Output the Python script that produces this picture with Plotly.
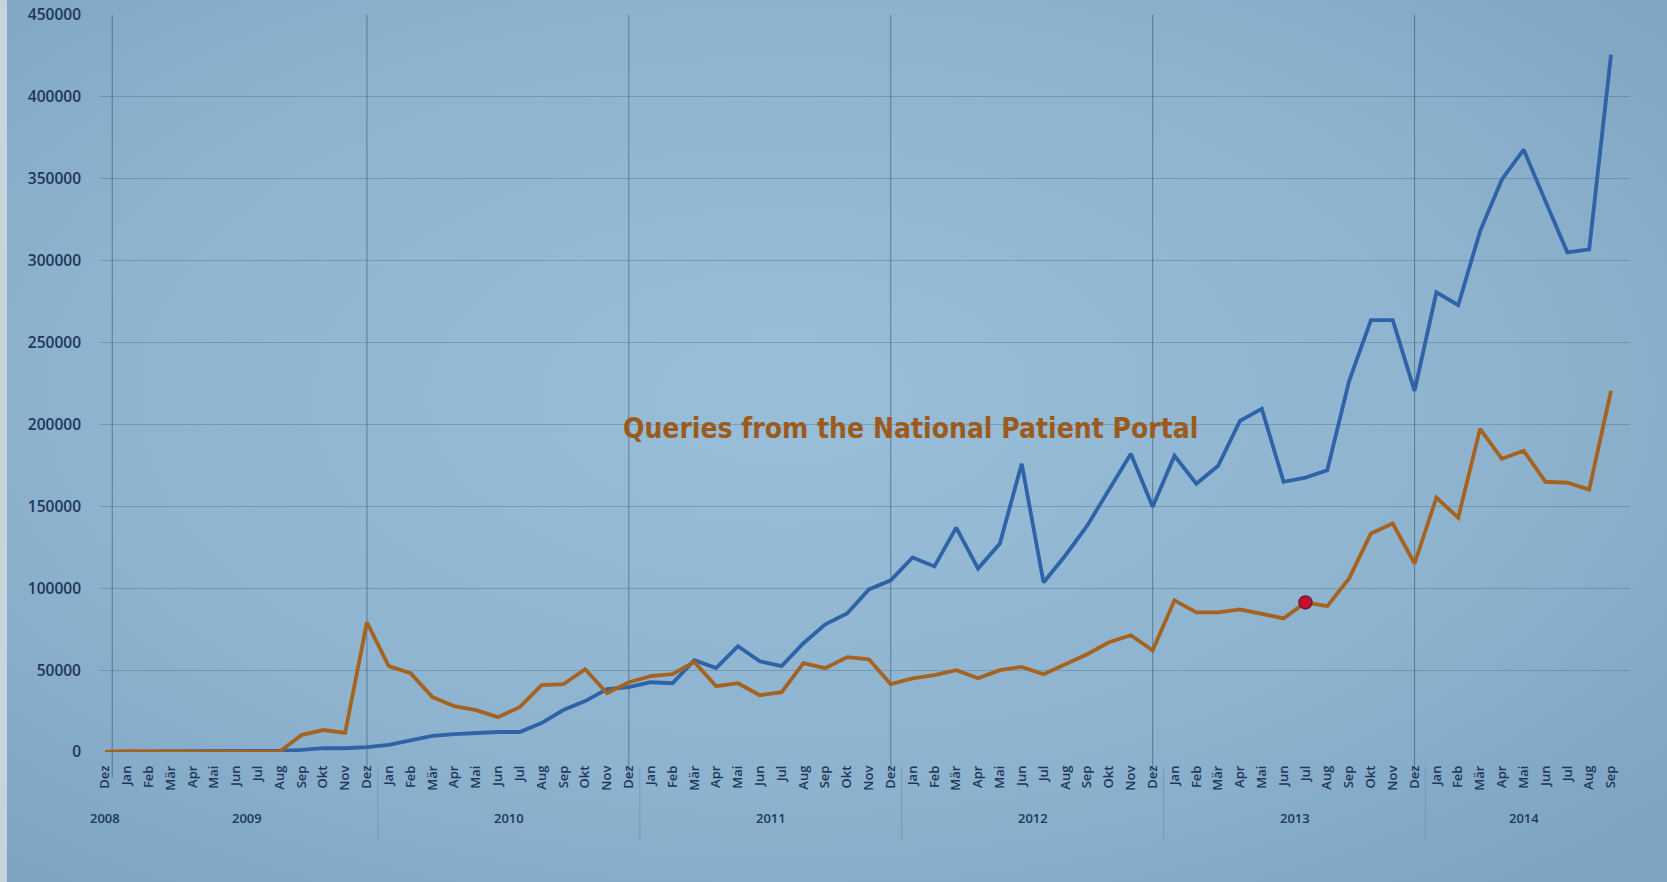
import base64
import plotly.graph_objects as go

# ---------------- data ----------------
month_names = ["Jan", "Feb", "Mär", "Apr", "Mai", "Jun", "Jul", "Aug", "Sep", "Okt", "Nov", "Dez"]
month_labels = ["Dez"] + month_names * 5 + month_names[:9]          # Dez 2008 .. Sep 2014
point_years = [2008] + [y for y in range(2009, 2014) for _ in range(12)] + [2014] * 9
year_labels = ["2008", "2009", "2010", "2011", "2012", "2013", "2014"]

total_queries = [
    0, 300, 300, 400, 500, 500, 600, 600, 700,
    1300, 2400, 2300, 3000,
    4300, 7300, 9800, 10900, 11500, 12200, 12200, 17700, 25600, 31100, 38400, 39600,
    42600, 42000, 56000, 51200, 64600, 55400, 52400, 66400, 77900, 84600, 99300, 104800,
    118800, 113300, 137000, 112000, 127300, 176000, 103500, 120000, 138200, 159600, 182100, 149800,
    180900, 163800, 174800, 202200, 209500, 165000, 167500, 172000, 226500, 263700, 263700, 220500,
    280700, 272800, 317900, 349600, 367800, 336200, 305100, 306900, 425700,
]
portal_queries = [
    0, 500, 300, 200, 100, 0, 0, 0, 200,
    10350, 13400, 11600, 79200,
    52400, 48100, 33500, 28000, 25600, 21300, 27400, 40800, 41400, 50500, 35900, 42600,
    46300, 47500, 55000, 40200, 42000, 34700, 36500, 54200, 51200, 57900, 56600, 41400,
    45000, 47000, 50000, 45000, 50000, 52000, 47500, 53600, 59700, 67000, 71300, 62100,
    92600, 85300, 85300, 87100, 84600, 81600, 91350, 89000, 106000, 133400, 139500, 115100,
    155300, 143100, 197300, 179000, 183900, 165000, 164400, 160200, 220500,
]
highlight_label = ("Jul", 2013)
y_ticks = list(range(0, 450001, 50000))
annotation_text = "Queries from the National Patient Portal"

# ---------------- figure ----------------
W, H = 1667, 882
ML, MR, MT, MB = 100, 37, 15, 130
PW, PH = W - ML - MR, H - MT - MB

x = list(range(len(month_labels)))
hi = [i for i in x if month_labels[i] == highlight_label[0] and point_years[i] == highlight_label[1]][0]

BLUE = "#2f63a8"
ORANGE = "#a5631f"
TXT = "#20375a"

fig = go.Figure()
fig.add_trace(go.Scatter(x=x, y=total_queries, mode="lines",
                         line=dict(color=BLUE, width=3.8), cliponaxis=False,
                         hoverinfo="skip", showlegend=False))
fig.add_trace(go.Scatter(x=x, y=portal_queries, mode="lines",
                         line=dict(color=ORANGE, width=3.8), cliponaxis=False,
                         hoverinfo="skip", showlegend=False))
fig.add_trace(go.Scatter(x=[x[hi]], y=[portal_queries[hi]], mode="markers",
                         marker=dict(color="#c4102c", size=13, line=dict(color="#6b1c40", width=1.5)),
                         cliponaxis=False, hoverinfo="skip", showlegend=False))

# background (radial gradient + light strip on left)
svg = (
    f"<svg xmlns='http://www.w3.org/2000/svg' width='{W}' height='{H}' viewBox='0 0 {W} {H}' preserveAspectRatio='none'>"
    "<defs><radialGradient id='g' cx='0.47' cy='0.45' r='0.72'>"
    "<stop offset='0' stop-color='#98bed9'/><stop offset='0.6' stop-color='#8db3cf'/>"
    "<stop offset='1' stop-color='#7ca3c0'/></radialGradient></defs>"
    f"<rect width='{W}' height='{H}' fill='url(#g)'/>"
    f"<rect width='7' height='{H}' fill='#c9d3d9'/>"
    "</svg>"
)
src = "data:image/svg+xml;base64," + base64.b64encode(svg.encode()).decode()
fig.add_layout_image(dict(source=src, xref="paper", yref="paper",
                          x=-ML / PW, y=(PH + MT) / PH, sizex=W / PW, sizey=H / PH,
                          xanchor="left", yanchor="top", sizing="stretch", layer="below"))

# vertical year gridlines in plot, and group dividers in the label area
year_starts = [i for i in x if i > 0 and point_years[i] != point_years[i - 1]]
vlines = sorted(set([0.33] + [s - 1 for s in year_starts[1:]]))
for v in vlines:
    fig.add_shape(type="line", xref="x", yref="paper", x0=v, x1=v, y0=-0.035, y1=1,
                  line=dict(color="rgba(45,75,105,0.55)", width=1), layer="below")
for s in year_starts[1:]:
    fig.add_shape(type="line", xref="x", yref="paper", x0=s - 0.5, x1=s - 0.5, y0=-0.02, y1=-0.12,
                  line=dict(color="rgba(90,120,150,0.35)", width=1), layer="below")

# year labels
for yl in year_labels:
    idx = [i for i in x if point_years[i] == int(yl)]
    fig.add_annotation(x=(idx[0] + idx[-1]) / 2, xref="x", y=-0.089, yref="paper",
                       text=yl, showarrow=False, yanchor="middle",
                       font=dict(family="Open Sans", size=13, color=TXT, weight=600))

fig.add_annotation(x=(910 - ML) / PW, y=(MT + PH - 428) / PH, xref="paper", yref="paper",
                   text=f"<b>{annotation_text}</b>", showarrow=False,
                   font=dict(family="Liberation Sans Narrow, DejaVu Sans Condensed, Lato", size=28, color="#9c5b1c"))

fig.update_layout(
    width=W, height=H,
    margin=dict(l=ML, r=MR, t=MT, b=MB, autoexpand=False),
    paper_bgcolor="#8db3cf", plot_bgcolor="rgba(0,0,0,0)",
    xaxis=dict(range=[-0.23, 69.87], tickmode="array", tickvals=x, ticktext=month_labels,
               tickangle=-90, showgrid=False, zeroline=False, showline=False, ticks="",
               ticklabelstandoff=10, automargin=False,
               tickfont=dict(family="Open Sans", size=13, color=TXT, weight=600)),
    yaxis=dict(range=[0, 450000], tickmode="array", tickvals=y_ticks, tickformat="d",
               showgrid=True, gridcolor="rgba(50,80,112,0.28)", gridwidth=1,
               zeroline=False, showline=False, ticks="", ticklabelstandoff=18, automargin=False,
               tickfont=dict(family="Open Sans", size=15.5, color=TXT, weight=600)),
)

fig.write_html("out.html", config={"displayModeBar": False},
               post_script="document.body.style.margin='0';document.body.style.overflow='hidden';")
